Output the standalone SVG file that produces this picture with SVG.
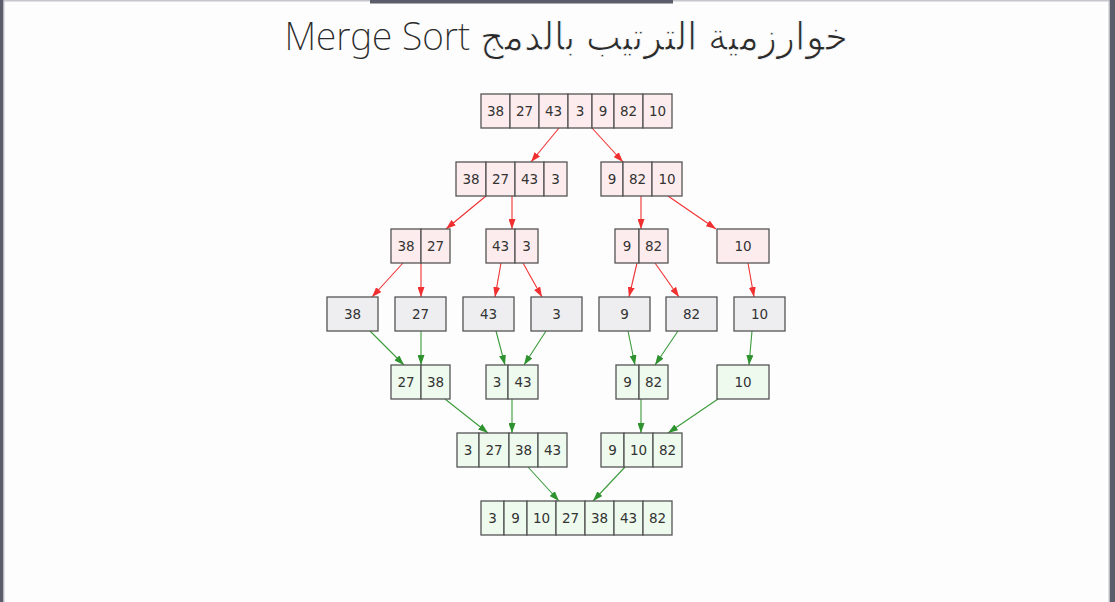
<svg xmlns="http://www.w3.org/2000/svg" width="1115" height="602" viewBox="0 0 1115 602">
<style>
.cell{stroke:#555;stroke-width:1.3}
.pink{fill:#fdeced}
.grey{fill:#eeeef0}
.green{fill:#eefaee}
.t{font-family:"DejaVu Sans",sans-serif;font-size:13.5px;fill:#333;text-anchor:middle}
.r{stroke:#f03030;stroke-width:1.1;fill:none}
.g{stroke:#3a9a3a;stroke-width:1.1;fill:none}
.title{font-family:"Noto Sans","DejaVu Sans",sans-serif;font-weight:200;font-size:39px;fill:#2a2a2a;text-anchor:middle}
.ar{stroke:#fdfdfd;stroke-width:1px;paint-order:normal}
</style>
<defs>
<marker id="ar" viewBox="0 0 10 7" refX="10" refY="3.5" markerWidth="10" markerHeight="7" markerUnits="userSpaceOnUse" orient="auto"><path d="M0,0 L10,3.5 L0,7 z" fill="#f03030"/></marker>
<marker id="ag" viewBox="0 0 10 7" refX="10" refY="3.5" markerWidth="10" markerHeight="7" markerUnits="userSpaceOnUse" orient="auto"><path d="M0,0 L10,3.5 L0,7 z" fill="#2e922e"/></marker>
</defs>
<rect width="1115" height="602" fill="#fdfdfd"/>
<rect x="0" y="0" width="1115" height="1.5" fill="#c4c6cc"/>
<rect x="0" y="0" width="3.5" height="602" fill="#5c5d6b"/>
<rect x="3.5" y="0" width="1" height="602" fill="#c4c6cc"/>
<rect x="1109.5" y="0" width="5.5" height="602" fill="#5c5d6b"/>
<rect x="1108.5" y="0" width="1" height="602" fill="#c4c6cc"/>
<rect x="370" y="0" width="303" height="3.5" fill="#5c5d6b"/>
<text class="title" x="566" y="50" direction="rtl" textLength="563" lengthAdjust="spacingAndGlyphs"><tspan class="ar">خوارزمية الترتيب بالدمج</tspan> Merge Sort</text>

<g id="connectors">
<line class="r" marker-end="url(#ar)" x1="559" y1="128" x2="531" y2="162"/>
<line class="r" marker-end="url(#ar)" x1="592" y1="128" x2="623" y2="162"/>
<line class="r" marker-end="url(#ar)" x1="486" y1="196" x2="446" y2="229"/>
<line class="r" marker-end="url(#ar)" x1="512" y1="196" x2="512" y2="229"/>
<line class="r" marker-end="url(#ar)" x1="641" y1="196" x2="641" y2="229"/>
<line class="r" marker-end="url(#ar)" x1="668" y1="196" x2="716" y2="229"/>
<line class="r" marker-end="url(#ar)" x1="403" y1="263" x2="372" y2="297"/>
<line class="r" marker-end="url(#ar)" x1="421" y1="263" x2="421" y2="297"/>
<line class="r" marker-end="url(#ar)" x1="501" y1="263" x2="495" y2="297"/>
<line class="r" marker-end="url(#ar)" x1="523" y1="263" x2="542" y2="297"/>
<line class="r" marker-end="url(#ar)" x1="637" y1="263" x2="629" y2="297"/>
<line class="r" marker-end="url(#ar)" x1="655" y1="263" x2="679" y2="297"/>
<line class="r" marker-end="url(#ar)" x1="748" y1="263" x2="754" y2="297"/>
<line class="g" marker-end="url(#ag)" x1="370" y1="331" x2="404" y2="365"/>
<line class="g" marker-end="url(#ag)" x1="421" y1="331" x2="421" y2="365"/>
<line class="g" marker-end="url(#ag)" x1="496" y1="331" x2="505" y2="365"/>
<line class="g" marker-end="url(#ag)" x1="546" y1="331" x2="524" y2="365"/>
<line class="g" marker-end="url(#ag)" x1="628" y1="331" x2="635" y2="365"/>
<line class="g" marker-end="url(#ag)" x1="678" y1="331" x2="655" y2="365"/>
<line class="g" marker-end="url(#ag)" x1="752" y1="331" x2="749" y2="365"/>
<line class="g" marker-end="url(#ag)" x1="445" y1="399" x2="488" y2="433"/>
<line class="g" marker-end="url(#ag)" x1="512" y1="399" x2="512" y2="433"/>
<line class="g" marker-end="url(#ag)" x1="641" y1="399" x2="641" y2="433"/>
<line class="g" marker-end="url(#ag)" x1="718" y1="399" x2="668" y2="433"/>
<line class="g" marker-end="url(#ag)" x1="528" y1="467" x2="559" y2="501"/>
<line class="g" marker-end="url(#ag)" x1="625" y1="467" x2="593" y2="501"/>
</g>

<g id="n1">
<rect class="cell pink" x="481" y="94" width="29" height="34"/><text class="t" x="495.5" y="115.5">38</text>
<rect class="cell pink" x="510" y="94" width="29" height="34"/><text class="t" x="524.5" y="115.5">27</text>
<rect class="cell pink" x="539" y="94" width="29" height="34"/><text class="t" x="553.5" y="115.5">43</text>
<rect class="cell pink" x="568" y="94" width="24" height="34"/><text class="t" x="580" y="115.5">3</text>
<rect class="cell pink" x="592" y="94" width="22" height="34"/><text class="t" x="603" y="115.5">9</text>
<rect class="cell pink" x="614" y="94" width="29" height="34"/><text class="t" x="628.5" y="115.5">82</text>
<rect class="cell pink" x="643" y="94" width="29" height="34"/><text class="t" x="657.5" y="115.5">10</text>
</g>
<g id="n2a">
<rect class="cell pink" x="456" y="162" width="30" height="34"/><text class="t" x="471" y="183.5">38</text>
<rect class="cell pink" x="486" y="162" width="29" height="34"/><text class="t" x="500.5" y="183.5">27</text>
<rect class="cell pink" x="515" y="162" width="29" height="34"/><text class="t" x="529.5" y="183.5">43</text>
<rect class="cell pink" x="544" y="162" width="23" height="34"/><text class="t" x="555.5" y="183.5">3</text>
</g>
<g id="n2b">
<rect class="cell pink" x="601" y="162" width="22" height="34"/><text class="t" x="612" y="183.5">9</text>
<rect class="cell pink" x="623" y="162" width="29" height="34"/><text class="t" x="637.5" y="183.5">82</text>
<rect class="cell pink" x="652" y="162" width="30" height="34"/><text class="t" x="667" y="183.5">10</text>
</g>
<g id="n3a">
<rect class="cell pink" x="391" y="229" width="30" height="34"/><text class="t" x="406" y="250.5">38</text>
<rect class="cell pink" x="421" y="229" width="29" height="34"/><text class="t" x="435.5" y="250.5">27</text>
</g>
<g id="n3b">
<rect class="cell pink" x="486" y="229" width="29" height="34"/><text class="t" x="500.5" y="250.5">43</text>
<rect class="cell pink" x="515" y="229" width="23" height="34"/><text class="t" x="526.5" y="250.5">3</text>
</g>
<g id="n3c">
<rect class="cell pink" x="615" y="229" width="24" height="34"/><text class="t" x="627" y="250.5">9</text>
<rect class="cell pink" x="639" y="229" width="29" height="34"/><text class="t" x="653.5" y="250.5">82</text>
</g>
<g id="n3d">
<rect class="cell pink" x="717" y="229" width="52" height="34"/><text class="t" x="743" y="250.5">10</text>
</g>
<g id="n4a"><rect class="cell grey" x="327" y="297" width="51" height="34"/><text class="t" x="352.5" y="318.5">38</text></g>
<g id="n4b"><rect class="cell grey" x="395" y="297" width="51" height="34"/><text class="t" x="420.5" y="318.5">27</text></g>
<g id="n4c"><rect class="cell grey" x="463" y="297" width="51" height="34"/><text class="t" x="488.5" y="318.5">43</text></g>
<g id="n4d"><rect class="cell grey" x="531" y="297" width="51" height="34"/><text class="t" x="556.5" y="318.5">3</text></g>
<g id="n4e"><rect class="cell grey" x="599" y="297" width="51" height="34"/><text class="t" x="624.5" y="318.5">9</text></g>
<g id="n4f"><rect class="cell grey" x="666" y="297" width="51" height="34"/><text class="t" x="691.5" y="318.5">82</text></g>
<g id="n4g"><rect class="cell grey" x="734" y="297" width="51" height="34"/><text class="t" x="759.5" y="318.5">10</text></g>
<g id="n5a">
<rect class="cell green" x="391" y="365" width="30" height="34"/><text class="t" x="406" y="386.5">27</text>
<rect class="cell green" x="421" y="365" width="29" height="34"/><text class="t" x="435.5" y="386.5">38</text>
</g>
<g id="n5b">
<rect class="cell green" x="486" y="365" width="22" height="34"/><text class="t" x="497" y="386.5">3</text>
<rect class="cell green" x="508" y="365" width="30" height="34"/><text class="t" x="523" y="386.5">43</text>
</g>
<g id="n5c">
<rect class="cell green" x="616" y="365" width="23" height="34"/><text class="t" x="627.5" y="386.5">9</text>
<rect class="cell green" x="639" y="365" width="29" height="34"/><text class="t" x="653.5" y="386.5">82</text>
</g>
<g id="n5d">
<rect class="cell green" x="717" y="365" width="52" height="34"/><text class="t" x="743" y="386.5">10</text>
</g>
<g id="n6a">
<rect class="cell green" x="457" y="433" width="22" height="34"/><text class="t" x="468" y="454.5">3</text>
<rect class="cell green" x="479" y="433" width="30" height="34"/><text class="t" x="494" y="454.5">27</text>
<rect class="cell green" x="509" y="433" width="29" height="34"/><text class="t" x="523.5" y="454.5">38</text>
<rect class="cell green" x="538" y="433" width="29" height="34"/><text class="t" x="552.5" y="454.5">43</text>
</g>
<g id="n6b">
<rect class="cell green" x="601" y="433" width="23" height="34"/><text class="t" x="612.5" y="454.5">9</text>
<rect class="cell green" x="624" y="433" width="29" height="34"/><text class="t" x="638.5" y="454.5">10</text>
<rect class="cell green" x="653" y="433" width="29" height="34"/><text class="t" x="667.5" y="454.5">82</text>
</g>
<g id="n7">
<rect class="cell green" x="481" y="501" width="23" height="34"/><text class="t" x="492.5" y="522.5">3</text>
<rect class="cell green" x="504" y="501" width="23" height="34"/><text class="t" x="515.5" y="522.5">9</text>
<rect class="cell green" x="527" y="501" width="29" height="34"/><text class="t" x="541.5" y="522.5">10</text>
<rect class="cell green" x="556" y="501" width="29" height="34"/><text class="t" x="570.5" y="522.5">27</text>
<rect class="cell green" x="585" y="501" width="29" height="34"/><text class="t" x="599.5" y="522.5">38</text>
<rect class="cell green" x="614" y="501" width="29" height="34"/><text class="t" x="628.5" y="522.5">43</text>
<rect class="cell green" x="643" y="501" width="29" height="34"/><text class="t" x="657.5" y="522.5">82</text>
</g>
</svg>
